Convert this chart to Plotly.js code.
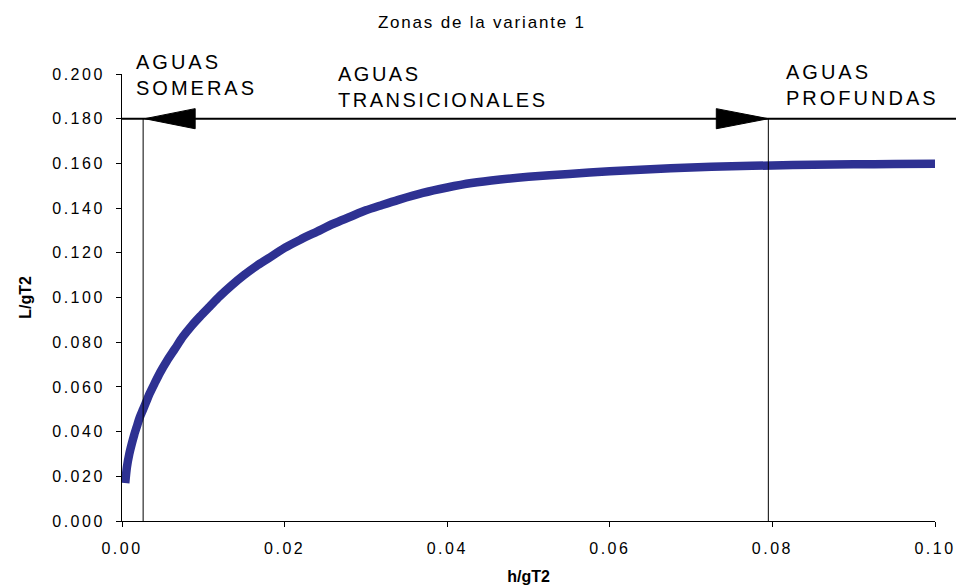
<!DOCTYPE html>
<html>
<head>
<meta charset="utf-8">
<script src="https://cdn.plot.ly/plotly-3.0.1.min.js"></script>
<style>html,body{margin:0;padding:0;background:#fff;}</style>
</head>
<body>
<div id="chart" style="width:956px;height:588px;"></div>
<script>
// ---- data ----
const hgT2 = [0.0004, 0.0006, 0.0009, 0.0012, 0.0015, 0.0018, 0.0022, 0.0026, 0.0030, 0.0034,
  0.0040, 0.0047, 0.0055, 0.0065, 0.0075, 0.0086, 0.0096, 0.0108, 0.0120, 0.0135,
  0.0150, 0.0165, 0.0180, 0.0200, 0.0220, 0.0240, 0.0260, 0.0280, 0.0300, 0.0320,
  0.0340, 0.0370, 0.0400, 0.0430, 0.0465, 0.0500, 0.0550, 0.0600, 0.0650, 0.0700,
  0.0750, 0.0800, 0.0850, 0.0900, 0.0950, 0.1000];
const LgT2 = [0.017, 0.024, 0.030, 0.0345, 0.0385, 0.042, 0.0465, 0.050, 0.0535, 0.057,
  0.0615, 0.0665, 0.0715, 0.077, 0.0825, 0.0875, 0.0915, 0.096, 0.1005, 0.1055,
  0.110, 0.114, 0.1175, 0.1222, 0.126, 0.1295, 0.133, 0.136, 0.139, 0.1414,
  0.1437, 0.1468, 0.1492, 0.1512, 0.1528, 0.1540, 0.1553, 0.1565, 0.1574, 0.1582,
  0.1587, 0.1591, 0.1594, 0.1596, 0.1597, 0.1598];
const zoneLimits = [0.0026, 0.0795];   // h/gT2 limits: shallow / deep
const zoneLevel = 0.18;                // L/gT2 level of the zone line
const zoneLabels = ["AGUAS<br>SOMERAS", "AGUAS<br>TRANSICIONALES", "AGUAS<br>PROFUNDAS"];
const yTickVals = [0, 0.02, 0.04, 0.06, 0.08, 0.10, 0.12, 0.14, 0.16, 0.18, 0.20];
const yTickText = ["0.000","0.020","0.040","0.060","0.080","0.100","0.120","0.140","0.160","0.180","0.200"];
const xTickVals = [0, 0.02, 0.04, 0.06, 0.08, 0.10];
const xTickText = ["0.00","0.02","0.04","0.06","0.08","0.10"];
const titleText = "Zonas de la variante 1";
const xTitle = "h/gT2";
const yTitle = "L/gT2";

const sp = (t, ls) => '<span style="letter-spacing:' + ls + 'px">' + t + '</span>';
const FONT = 'Arial, "Liberation Sans", sans-serif';

const trace = {
  x: hgT2, y: LgT2, type: 'scatter', mode: 'lines',
  line: {color: 'rgb(46,49,146)', width: 8.5, shape: 'spline', smoothing: 0.8},
  hoverinfo: 'skip', showlegend: false
};

const shapes = [
  {type: 'line', xref: 'paper', yref: 'y', x0: 0, x1: 1.026, y0: zoneLevel, y1: zoneLevel,
   line: {color: '#000', width: 2}},
  {type: 'line', xref: 'x', yref: 'y', x0: zoneLimits[0], x1: zoneLimits[0], y0: 0, y1: zoneLevel,
   line: {color: '#000', width: 1}},
  {type: 'line', xref: 'x', yref: 'y', x0: zoneLimits[1], x1: zoneLimits[1], y0: 0, y1: zoneLevel,
   line: {color: '#000', width: 1}},
  {type: 'path', xref: 'x', yref: 'y',
   path: 'M ' + (zoneLimits[0] + 0.0002) + ',' + zoneLevel + ' L ' + (zoneLimits[0] + 0.0064) + ',' + (zoneLevel + 0.0045) +
         ' L ' + (zoneLimits[0] + 0.0064) + ',' + (zoneLevel - 0.0045) + ' Z',
   fillcolor: '#000', line: {color: '#000', width: 1}},
  {type: 'path', xref: 'x', yref: 'y',
   path: 'M ' + zoneLimits[1] + ',' + zoneLevel + ' L ' + (zoneLimits[1] - 0.0064) + ',' + (zoneLevel + 0.0045) +
         ' L ' + (zoneLimits[1] - 0.0064) + ',' + (zoneLevel - 0.0045) + ' Z',
   fillcolor: '#000', line: {color: '#000', width: 1}}
];

const annFont = {family: FONT, size: 20, color: '#000'};
const annotations = [
  {xref: 'x', yref: 'paper', x: 0.0015, y: 1.056, xanchor: 'left', yanchor: 'top', align: 'left',
   showarrow: false, text: sp(zoneLabels[0], 3), font: annFont},
  {xref: 'x', yref: 'paper', x: 0.0263, y: 1.029, xanchor: 'left', yanchor: 'top', align: 'left',
   showarrow: false, text: sp(zoneLabels[1], 2.5), font: annFont},
  {xref: 'x', yref: 'paper', x: 0.0814, y: 1.034, xanchor: 'left', yanchor: 'top', align: 'left',
   showarrow: false, text: sp(zoneLabels[2], 3), font: annFont}
];

const layout = {
  width: 956, height: 588,
  margin: {l: 122, r: 21, t: 74, b: 67},
  paper_bgcolor: '#fff', plot_bgcolor: '#fff',
  font: {family: FONT, color: '#000'},
  title: {text: sp(titleText, 1.8), x: 0.504, xanchor: 'center', y: 0.962, yanchor: 'middle',
          font: {family: FONT, size: 17, color: '#000'}},
  xaxis: {
    range: [0, 0.1], showgrid: false, zeroline: false,
    showline: true, linecolor: '#000', linewidth: 1,
    ticks: 'outside', ticklen: 5, tickcolor: '#000', tickwidth: 1,
    tickmode: 'array', tickvals: xTickVals, ticktext: xTickText.map(t => sp(t, 2.5)),
    tickfont: {family: FONT, size: 16, color: '#000'},
    ticklabelstandoff: 8,
    title: {text: '<b>' + xTitle + '</b>', font: {family: FONT, size: 16, color: '#000'}, standoff: 14}
  },
  yaxis: {
    range: [0, 0.2], showgrid: false, zeroline: false,
    showline: true, linecolor: '#000', linewidth: 1,
    ticks: 'outside', ticklen: 5, tickcolor: '#000', tickwidth: 1,
    tickmode: 'array', tickvals: yTickVals, ticktext: yTickText.map(t => sp(t, 2.5)),
    tickfont: {family: FONT, size: 16, color: '#000'},
    ticklabelstandoff: 8,
    title: {text: '<b>' + yTitle + '</b>', font: {family: FONT, size: 16, color: '#000'}, standoff: 16}
  },
  shapes: shapes,
  annotations: annotations,
  showlegend: false
};

Plotly.newPlot('chart', [trace], layout, {staticPlot: true, displayModeBar: false});
</script>
</body>
</html>
